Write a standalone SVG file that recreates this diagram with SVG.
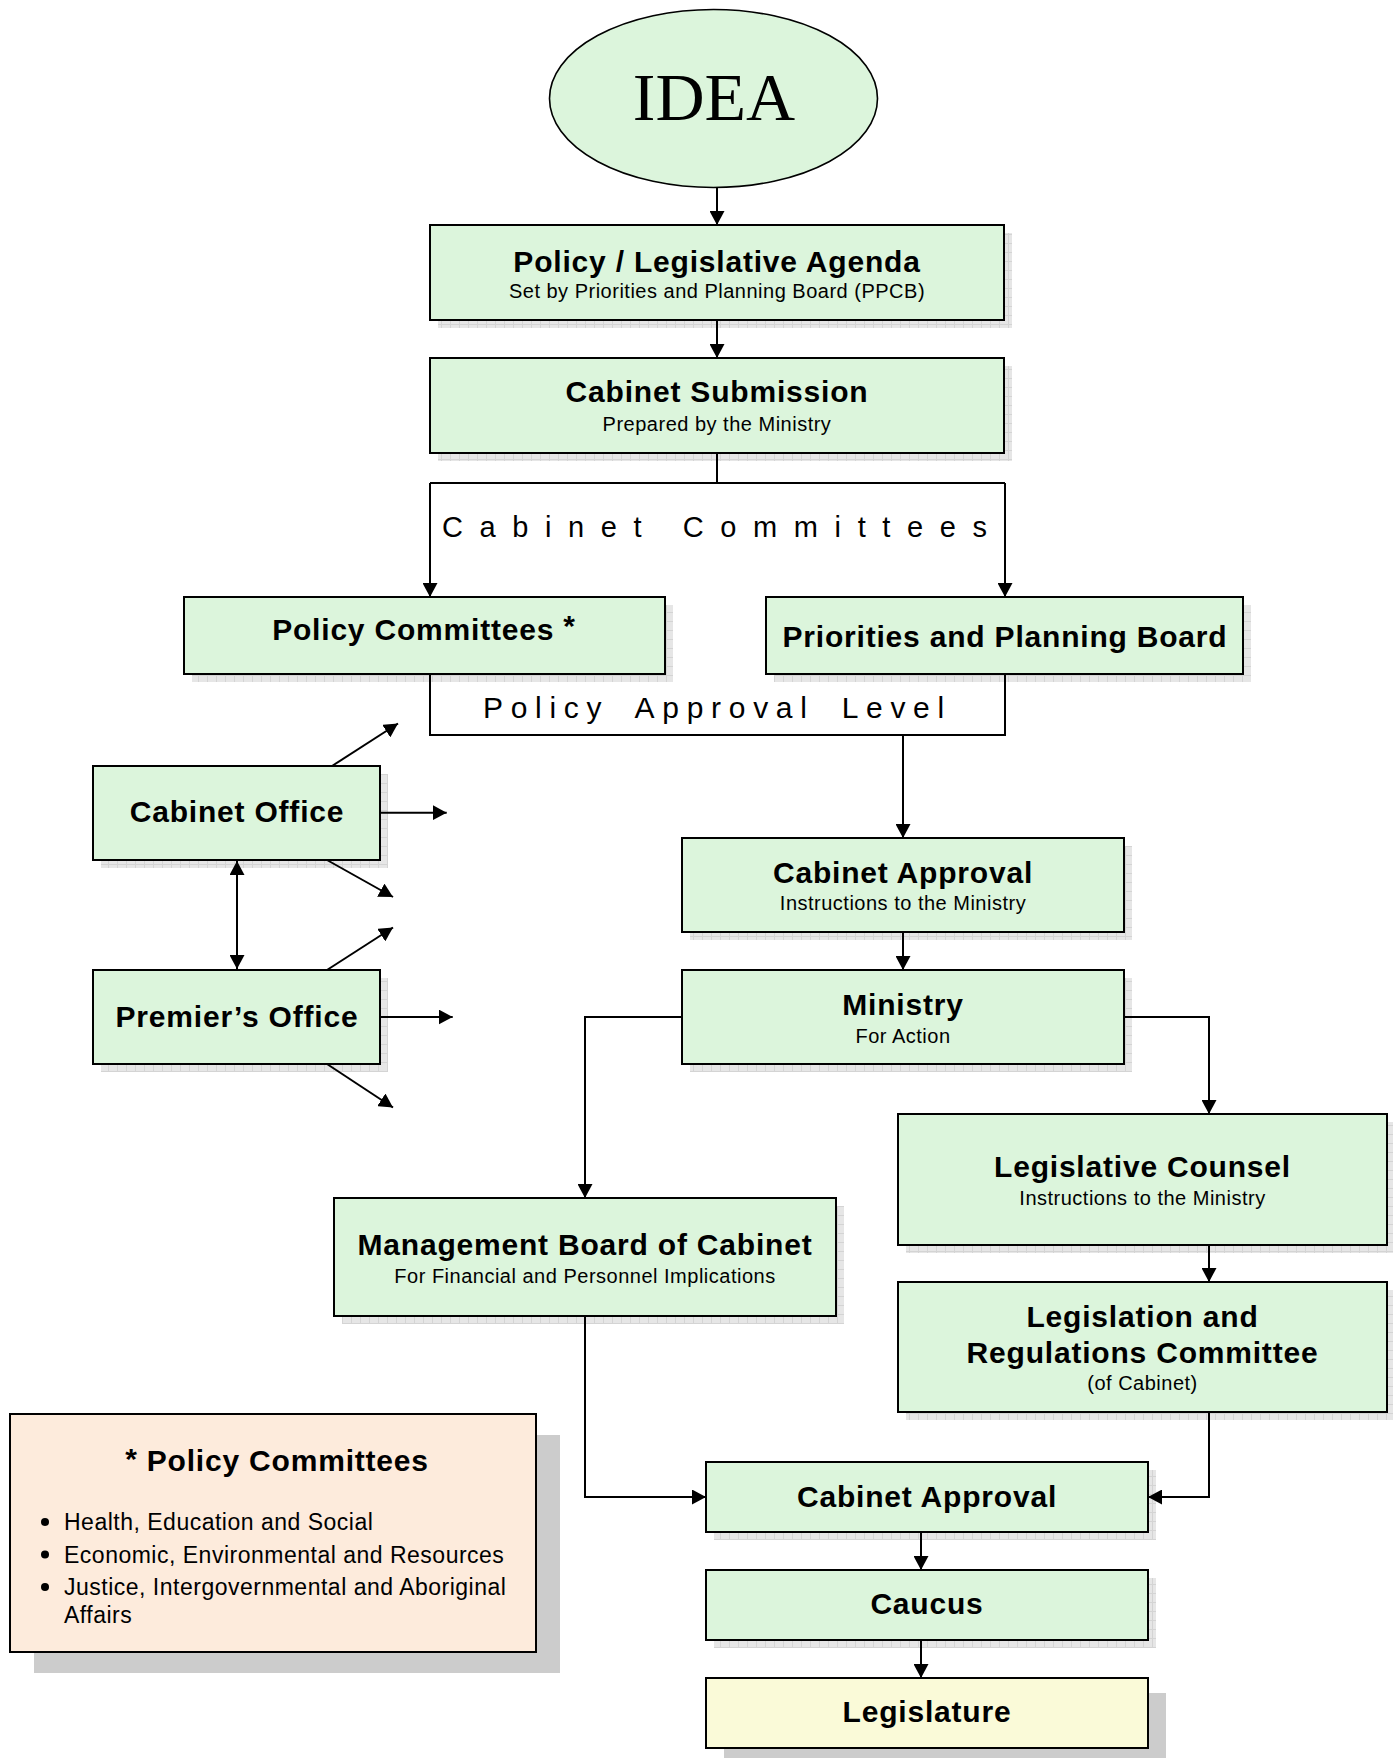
<svg xmlns="http://www.w3.org/2000/svg" width="1393" height="1758" viewBox="0 0 1393 1758">
<defs>
<pattern id="grid" width="9" height="9" patternUnits="userSpaceOnUse"><rect width="9" height="9" fill="#e6e6e6"/><path d="M0 0.5H9M0.5 0V9" stroke="#d4d4d4" stroke-width="1"/></pattern>
<marker id="arr" viewBox="0 0 14 15" refX="14" refY="7.5" markerUnits="userSpaceOnUse" markerWidth="14" markerHeight="15" orient="auto-start-reverse"><path d="M0,0 L14,7.5 L0,15 Z" fill="#000"/></marker>
</defs>
<style>
.box{fill:#DCF5DC;stroke:#000;stroke-width:2}
.sh{fill:url(#grid)}
.t{font-family:"Liberation Sans",Arial,sans-serif;font-weight:bold;font-size:30px;letter-spacing:0.8px;text-anchor:middle;fill:#000}
.s{font-family:"Liberation Sans",Arial,sans-serif;font-size:20px;letter-spacing:0.5px;text-anchor:middle;fill:#000}
.lab{font-family:"Liberation Sans",Arial,sans-serif;fill:#000}
.li{font-family:"Liberation Sans",Arial,sans-serif;font-size:23px;letter-spacing:0.5px;fill:#000}
.c{fill:none;stroke:#000;stroke-width:2}
.a{marker-end:url(#arr)}
</style>
<rect width="1393" height="1758" fill="#fff"/>

<g id="idea">
<ellipse cx="713.5" cy="98.5" rx="164" ry="89" fill="#DCF5DC" stroke="#000" stroke-width="1.6"/>
<text x="714" y="120" font-family="'Liberation Serif','Times New Roman',serif" font-size="68" text-anchor="middle">IDEA</text>
</g>

<g id="agenda">
<rect class="sh" x="438" y="233" width="574" height="95"/>
<rect class="box" x="430" y="225" width="574" height="95"/>
<text class="t" x="717" y="272">Policy / Legislative Agenda</text>
<text class="s" x="717" y="298">Set by Priorities and Planning Board (PPCB)</text>
</g>

<g id="submission">
<rect class="sh" x="438" y="366" width="574" height="95"/>
<rect class="box" x="430" y="358" width="574" height="95"/>
<text class="t" x="717" y="402">Cabinet Submission</text>
<text class="s" x="717" y="431">Prepared by the Ministry</text>
</g>

<g id="policy-committees">
<rect class="sh" x="192" y="605" width="481" height="77"/>
<rect class="box" x="184" y="597" width="481" height="77"/>
<text class="t" x="424" y="640">Policy Committees <tspan dy="-4">*</tspan></text>
</g>

<g id="ppb">
<rect class="sh" x="774" y="605" width="477" height="77"/>
<rect class="box" x="766" y="597" width="477" height="77"/>
<text class="t" x="1005" y="647">Priorities and Planning Board</text>
</g>

<g id="cabinet-office">
<rect class="sh" x="101" y="774" width="287" height="94"/>
<rect class="box" x="93" y="766" width="287" height="94"/>
<text class="t" x="237" y="822">Cabinet Office</text>
</g>

<g id="premiers-office">
<rect class="sh" x="101" y="978" width="287" height="94"/>
<rect class="box" x="93" y="970" width="287" height="94"/>
<text class="t" x="237" y="1027">Premier’s Office</text>
</g>

<g id="cabinet-approval-1">
<rect class="sh" x="690" y="846" width="442" height="94"/>
<rect class="box" x="682" y="838" width="442" height="94"/>
<text class="t" x="903" y="883">Cabinet Approval</text>
<text class="s" x="903" y="910">Instructions to the Ministry</text>
</g>

<g id="ministry">
<rect class="sh" x="690" y="978" width="442" height="94"/>
<rect class="box" x="682" y="970" width="442" height="94"/>
<text class="t" x="903" y="1015">Ministry</text>
<text class="s" x="903" y="1043">For Action</text>
</g>

<g id="legislative-counsel">
<rect class="sh" x="906" y="1122" width="489" height="131"/>
<rect class="box" x="898" y="1114" width="489" height="131"/>
<text class="t" x="1142.5" y="1177">Legislative Counsel</text>
<text class="s" x="1142.5" y="1205">Instructions to the Ministry</text>
</g>

<g id="management-board">
<rect class="sh" x="342" y="1206" width="502" height="118"/>
<rect class="box" x="334" y="1198" width="502" height="118"/>
<text class="t" x="585" y="1255">Management Board of Cabinet</text>
<text class="s" x="585" y="1283">For Financial and Personnel Implications</text>
</g>

<g id="lrc">
<rect class="sh" x="906" y="1290" width="489" height="130"/>
<rect class="box" x="898" y="1282" width="489" height="130"/>
<text class="t" x="1142.5" y="1327">Legislation and</text>
<text class="t" x="1142.5" y="1363">Regulations Committee</text>
<text class="s" x="1142.5" y="1390">(of Cabinet)</text>
</g>

<g id="cabinet-approval-2">
<rect class="sh" x="714" y="1470" width="442" height="70"/>
<rect class="box" x="706" y="1462" width="442" height="70"/>
<text class="t" x="927" y="1507">Cabinet Approval</text>
</g>

<g id="caucus">
<rect class="sh" x="714" y="1578" width="442" height="70"/>
<rect class="box" x="706" y="1570" width="442" height="70"/>
<text class="t" x="927" y="1614">Caucus</text>
</g>

<g id="legislature">
<rect x="724" y="1693" width="442" height="70" fill="#cccccc"/>
<rect x="706" y="1678" width="442" height="70" fill="#FAFAD8" stroke="#000" stroke-width="2"/>
<text class="t" x="927" y="1722">Legislature</text>
</g>

<g id="legend">
<rect x="34" y="1435" width="526" height="238" fill="#cccccc"/>
<rect x="10" y="1414" width="526" height="238" fill="#FDEBDC" stroke="#000" stroke-width="2"/>
<text class="t" x="277" y="1471"><tspan dy="-2">*</tspan><tspan dy="2"> Policy Committees</tspan></text>
<circle cx="45" cy="1522" r="4"/>
<circle cx="45" cy="1554.5" r="4"/>
<circle cx="45" cy="1587" r="4"/>
<text class="li" x="64" y="1530">Health, Education and Social</text>
<text class="li" x="64" y="1562.5">Economic, Environmental and Resources</text>
<text class="li" x="64" y="1595">Justice, Intergovernmental and Aboriginal</text>
<text class="li" x="64" y="1623">Affairs</text>
</g>

<g id="connectors" class="c">
<path class="a" d="M717 187 V225"/>
<path class="a" d="M717 320 V358"/>
<path d="M717 453 V483 M430 483 H1005"/>
<path class="a" d="M430 483 V597"/>
<path class="a" d="M1005 483 V597"/>
<path d="M430 674 V735 H1005 V674"/>
<path class="a" d="M903 735 V838"/>
<path class="a" d="M903 932 V970"/>
<path class="a" d="M682 1017 H585 V1198"/>
<path class="a" d="M1124 1017 H1209 V1114"/>
<path class="a" d="M1209 1245 V1282"/>
<path class="a" d="M1209 1412 V1497 H1148"/>
<path class="a" d="M585 1316 V1497 H706"/>
<path class="a" d="M921 1532 V1570"/>
<path class="a" d="M921 1640 V1678"/>
<path class="a" d="M332 766 L398 723.5"/>
<path class="a" d="M381 812.7 H446.7"/>
<path class="a" d="M327 860 L393 897"/>
<path class="a" d="M237 861 V969" marker-start="url(#arr)"/>
<path class="a" d="M327 970 L393 927.5"/>
<path class="a" d="M381 1017 H452.7"/>
<path class="a" d="M327 1064 L393 1107.5"/>
</g>

<g id="labels">
<text class="lab" x="442" y="537" font-size="29" letter-spacing="16.6">Cabinet Committees</text>
<text class="lab" x="483" y="718" font-size="30" letter-spacing="7.7" word-spacing="11">Policy Approval Level</text>
</g>
</svg>
